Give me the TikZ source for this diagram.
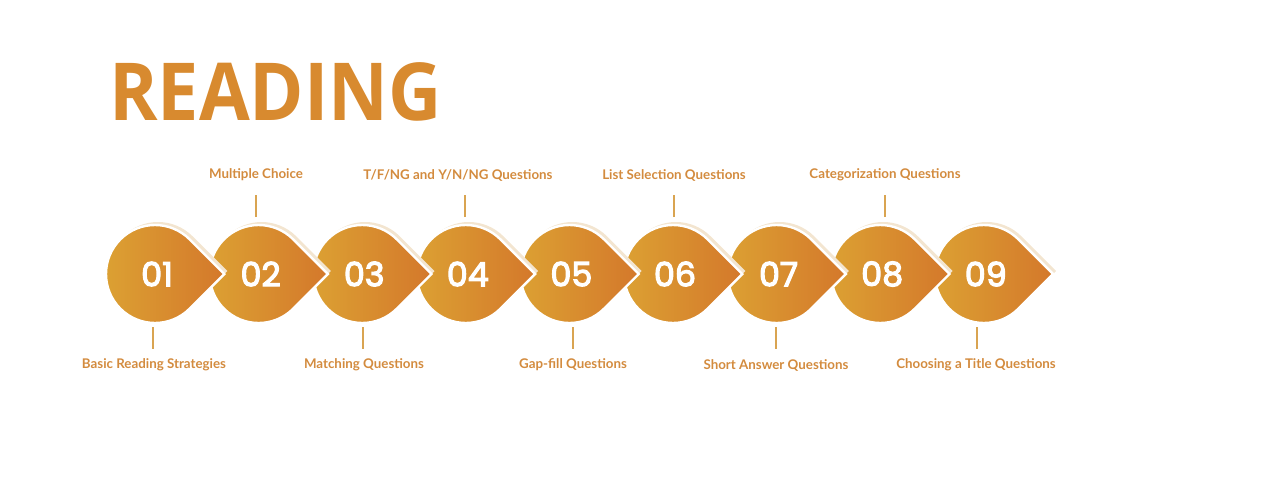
\documentclass[tikz,border=0pt]{standalone}
\usepackage{fontspec}
\setmainfont{Lato}
\newfontfamily\numfont{Poppins}[FakeBold=3.5]
\newfontfamily\titlefont{Open Sans}
\usetikzlibrary{calc}
\definecolor{gold}{HTML}{DCA233}
\definecolor{orng}{HTML}{D4782B}
\definecolor{labc}{HTML}{D38B3E}
\definecolor{shad}{HTML}{F3E5D0}
\definecolor{titc}{HTML}{D88A2F}
\definecolor{linec}{HTML}{D9A451}
\tikzset{
  lab/.style={text=labc, font=\fontsize{10}{11}\selectfont\bfseries, inner sep=0pt},
  conn/.style={draw=linec, line width=1.2pt},
  num/.style={text=white, font=\fontsize{25}{27}\selectfont\numfont, inner sep=0pt},
  dropshape/.style={draw=white, line width=1.8pt, left color=gold, right color=orng},
  dropshadow/.style={fill=shad},
  titlestyle/.style={text=titc, font=\fontsize{60}{64}\selectfont\titlefont\bfseries, inner sep=0pt, xscale=0.92}
}
\begin{document}
\begin{tikzpicture}[x=0.75pt,y=-0.75pt]
\useasboundingbox (0,0) rectangle (1280,479);
\def\R{49}
% title
\node[titlestyle, anchor=base west] (title) at (109,120) {READING};
% drops, drawn from last to first so earlier tips lie on top
\foreach \i in {9,8,...,1} {
  \pgfmathsetmacro\cx{155+103.6*(\i-1)}
  \path[dropshadow] (\cx+3,271) ++(45:\R) arc[start angle=45,end angle=315,radius=\R] -- (\cx+3+\R*1.41421,271) -- cycle;
  \path[dropshape] (\cx,274) ++(45:\R) arc[start angle=45,end angle=315,radius=\R] -- (\cx+\R*1.41421,274) -- cycle;
}
% numbers
\foreach \i/\n in {1/01,2/02,3/03,4/04,5/05,6/06,7/07,8/08,9/09} {
  \pgfmathsetmacro\cx{155+103.6*(\i-1)+2}
  \node[num] (n\i) at (\cx,274) {\n};
}
% labels
\node[lab] (l1) at (154,365) {Basic Reading Strategies};
\node[lab] (l2) at (256,175) {Multiple Choice};
\node[lab] (l3) at (364,365) {Matching Questions};
\node[lab] (l4) at (458,175) {T/F/NG and Y/N/NG Questions};
\node[lab] (l5) at (573,365) {Gap-fill Questions};
\node[lab] (l6) at (674,175) {List Selection Questions};
\node[lab] (l7) at (776,365) {Short Answer Questions};
\node[lab] (l8) at (885,175) {Categorization Questions};
\node[lab] (l9) at (976,365) {Choosing a Title Questions};
% connectors
\coordinate (a1) at (153,327); \coordinate (b1) at (153,349);
\coordinate (a2) at (256,217); \coordinate (b2) at (256,195);
\coordinate (a3) at (363,327); \coordinate (b3) at (363,349);
\coordinate (a4) at (465,217); \coordinate (b4) at (465,195);
\coordinate (a5) at (573,327); \coordinate (b5) at (573,349);
\coordinate (a6) at (674,217); \coordinate (b6) at (674,195);
\coordinate (a7) at (776,327); \coordinate (b7) at (776,349);
\coordinate (a8) at (885,217); \coordinate (b8) at (885,195);
\coordinate (a9) at (977,327); \coordinate (b9) at (977,349);
\foreach \i in {1,...,9} { \draw[conn] (a\i) -- (b\i); }
\end{tikzpicture}
\end{document}
